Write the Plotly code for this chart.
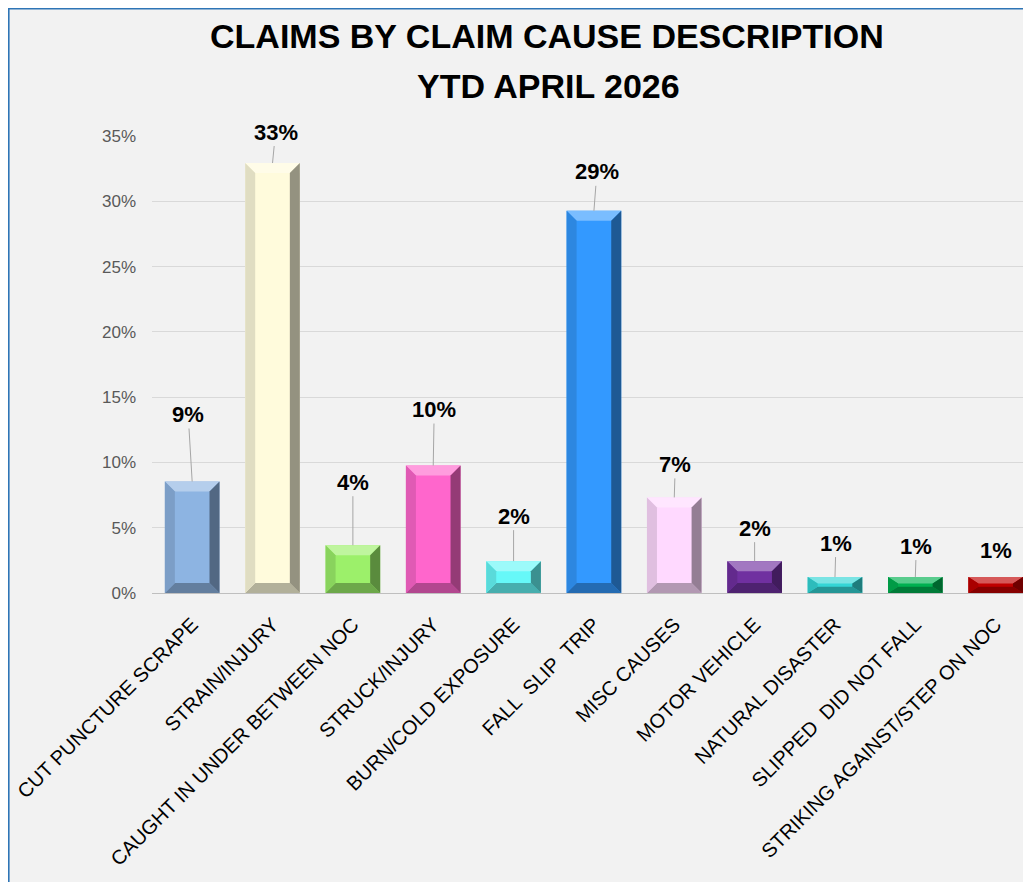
import plotly.graph_objects as go

# ---------------- data ----------------
categories = [
    "CUT PUNCTURE SCRAPE", "STRAIN/INJURY", "CAUGHT IN UNDER BETWEEN NOC",
    "STRUCK/INJURY", "BURN/COLD EXPOSURE", "FALL  SLIP  TRIP", "MISC CAUSES",
    "MOTOR VEHICLE", "NATURAL DISASTER", "SLIPPED  DID NOT FALL",
    "STRIKING AGAINST/STEP ON NOC",
]
share_pct = [8.54, 32.93, 3.66, 9.76, 2.44, 29.27, 7.32, 2.44, 1.22, 1.22, 1.22]
bar_colors = [
    "#8db4e2", "#fffbdc", "#9cf06a", "#ff66cc", "#66f8f8", "#3399ff",
    "#ffd9ff", "#7030a0", "#33d6d6", "#00b050", "#c00000",
]
# label offsets (pixels) of the data labels relative to the bar top
label_dx = [-4, 3, 0, 1, 0, 3, 1, 0, 1, 1, 0]
label_dy = [-67, -31, -63, -56, -45, -39, -33, -33, -34, -31, -27]
show_leader = [True, True, True, True, True, True, True, True, True, True, False]
y_ticks = [0, 0.05, 0.10, 0.15, 0.20, 0.25, 0.30, 0.35]
title_line1 = "CLAIMS BY CLAIM CAUSE DESCRIPTION"
title_line2 = "YTD APRIL 2026"

values = [p / 100 for p in share_pct]
xs = list(range(len(categories)))

# ---------------- geometry ----------------
OFF = 8  # page body margin
W, H = 1031 - OFF, 882 - OFF
ML, MR, MT, MB = 152 - OFF, 0, 136 - OFF, 882 - 593
plot_w = W - ML - MR
plot_h = H - MT - MB
cat_px = 80.35
x_lo = -0.5
x_hi = x_lo + plot_w / cat_px
y_max = 0.35
px_per_y = plot_h / y_max
bar_w = 0.68
hw = bar_w / 2
bev_x = 10 / cat_px
bev_y_full = 10 / px_per_y


def mix(hexc, other, t):
    h = hexc.lstrip("#")
    o = other.lstrip("#")
    c = [int(h[i:i + 2], 16) for i in (0, 2, 4)]
    d = [int(o[i:i + 2], 16) for i in (0, 2, 4)]
    r = [round(c[k] * (1 - t) + d[k] * t) for k in range(3)]
    return "#%02x%02x%02x" % tuple(r)


def px2paper_x(page_x):
    return (page_x - OFF - ML) / plot_w


def px2paper_y(page_y):
    return (H - MB - (page_y - OFF)) / plot_h


fig = go.Figure()
fig.add_trace(go.Bar(
    x=xs, y=values, width=bar_w,
    marker=dict(color=bar_colors, line=dict(width=0)),
    hoverinfo="skip",
))

shapes = []
# blue border of the chart area (top and left visible)
shapes.append(dict(type="line", xref="paper", yref="paper", layer="above",
                   x0=(0.6 - ML) / plot_w, x1=(0.6 - ML) / plot_w,
                   y0=-1, y1=(H - MB) / plot_h + 0.1,
                   line=dict(color="#2e75b6", width=2)))
shapes.append(dict(type="line", xref="paper", yref="paper", layer="above",
                   x0=-1, x1=2,
                   y0=(H - MB - 0.6) / plot_h, y1=(H - MB - 0.6) / plot_h,
                   line=dict(color="#2e75b6", width=2)))

# bevel facets
for i, v in enumerate(values):
    x0, x1 = i - hw, i + hw
    by = min(bev_y_full, v * 0.4)
    bx = bev_x
    c = bar_colors[i]
    top = mix(c, "#ffffff", 0.35)
    left = mix(c, "#000000", 0.12)
    right = mix(c, "#000000", 0.42)
    bottom = mix(c, "#000000", 0.30)
    facets = [
        (top, [(x0, v), (x1, v), (x1 - bx, v - by), (x0 + bx, v - by)]),
        (bottom, [(x0, 0), (x1, 0), (x1 - bx, by), (x0 + bx, by)]),
        (left, [(x0, 0), (x0, v), (x0 + bx, v - by), (x0 + bx, by)]),
        (right, [(x1, 0), (x1, v), (x1 - bx, v - by), (x1 - bx, by)]),
    ]
    for col, pts in facets:
        path = "M " + " L ".join(f"{px},{py}" for px, py in pts) + " Z"
        shapes.append(dict(type="path", xref="x", yref="y", path=path,
                           fillcolor=col, line=dict(width=0), layer="above"))

label_font = dict(family="Liberation Sans, Arial, sans-serif", size=22, color="#000000")
annotations = []
for i, v in enumerate(values):
    txt = f"<b>{round(v * 100)}%</b>"
    if show_leader[i]:
        annotations.append(dict(
            x=i, y=v, xref="x", yref="y", text=txt,
            showarrow=True, arrowhead=0, arrowwidth=1, arrowcolor="#a6a6a6",
            ax=label_dx[i], ay=label_dy[i], standoff=0, font=label_font,
        ))
    else:
        annotations.append(dict(
            x=i, y=v, xref="x", yref="y", text=txt,
            showarrow=False, xshift=label_dx[i], yshift=-label_dy[i], font=label_font,
        ))

title_font = dict(family="Liberation Sans, Arial, sans-serif", size=34, color="#000000")
annotations.append(dict(
    x=px2paper_x(547), y=px2paper_y(36), xref="paper", yref="paper",
    text=f"<b>{title_line1}</b>", showarrow=False, font=title_font,
    xanchor="center", yanchor="middle",
))
annotations.append(dict(
    x=px2paper_x(548), y=px2paper_y(86), xref="paper", yref="paper",
    text=f"<b>{title_line2}</b>", showarrow=False, font=title_font,
    xanchor="center", yanchor="middle",
))

fig.update_layout(
    width=W, height=H,
    margin=dict(l=ML, r=MR, t=MT, b=MB, pad=0),
    paper_bgcolor="#f2f2f2",
    plot_bgcolor="#f2f2f2",
    showlegend=False,
    shapes=shapes,
    annotations=annotations,
    font=dict(family="Liberation Sans, Arial, sans-serif"),
)
fig.update_xaxes(
    range=[x_lo, x_hi], tickvals=xs, ticktext=categories, tickangle=-45,
    showgrid=False, zeroline=False, showline=True, linecolor="#bfbfbf", linewidth=1,
    ticks="", tickfont=dict(family="Liberation Sans, Arial, sans-serif", size=20, color="#000000"),
    ticklabelstandoff=11, automargin=False, fixedrange=True,
)
fig.update_yaxes(
    range=[0, y_max], tickvals=y_ticks, tickformat=".0%",
    showgrid=True, gridcolor="#d9d9d9", gridwidth=1, zeroline=False, showline=False,
    ticks="", tickfont=dict(family="Liberation Sans, Arial, sans-serif", size=17, color="#595959"),
    ticklabelstandoff=15, automargin=False, fixedrange=True,
)

fig.write_html("out.html", config={"displayModeBar": False})
